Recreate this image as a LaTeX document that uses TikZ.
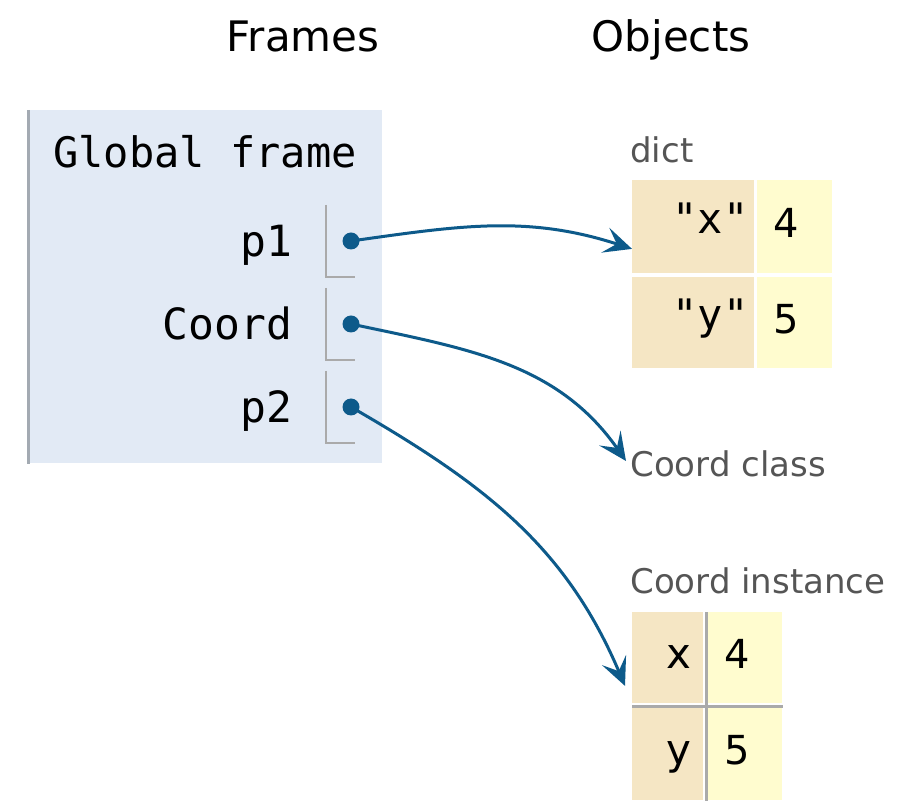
\documentclass[tikz,border=0pt]{standalone}
\usepackage{fontspec}
\setmainfont{DejaVu Sans}
\setmonofont{DejaVu Sans Mono}
\usetikzlibrary{arrows.meta,positioning,calc}
\definecolor{framebg}{HTML}{E2EAF5}
\definecolor{frameedge}{HTML}{A3AAB2}
\definecolor{keybg}{HTML}{F5E6C4}
\definecolor{valbg}{HTML}{FFFCCF}
\definecolor{ptrblue}{HTML}{0D5A8A}
\definecolor{labelgray}{HTML}{555555}
\definecolor{ptrgray}{HTML}{AAAAAA}

\begin{document}
\begin{tikzpicture}[x=0.5pt,y=-0.5pt,
  hdr/.style={font=\fontsize{21}{24}\selectfont},
  vname/.style={font=\ttfamily\fontsize{21.5}{24}\selectfont, anchor=base east},
  objlabel/.style={font=\fontsize{17}{20}\selectfont, text=labelgray, anchor=base west, inner sep=0pt},
  keycell/.style={fill=keybg, anchor=north west, inner sep=0pt},
  valcell/.style={fill=valbg, anchor=north west, inner sep=0pt},
  celltext/.style={font=\fontsize{20}{24}\selectfont, text height=1.5ex, text depth=0.3ex, inner sep=0pt},
  ptrdot/.style={circle, fill=ptrblue, inner sep=0pt, minimum size=8.5pt},
  ptr/.style={draw=ptrblue, line width=1.5pt, -{Stealth[length=14pt,width=13pt,inset=6pt]}},
  ptrbox/.style={draw=ptrgray, line width=1pt}]
\useasboundingbox (0,0) rectangle (910,801);
% headings
\node[hdr, anchor=base] (frames) at (303,52) {Frames};
\node[hdr, anchor=base] (objects) at (671,52) {Objects};
% the global frame
\node[fill=framebg, anchor=north west, minimum width=177pt, minimum height=176.5pt, inner sep=0pt] (gframe) at (28,110) {};
\draw[frameedge, line width=1.5pt] (gframe.north west) -- (gframe.south west);
\node[font=\ttfamily\fontsize{21}{24}\selectfont, anchor=base west, inner sep=0pt] (gtitle) at (53,168) {Global frame};
% the variables and their pointers
\foreach \vn/\y/\id in {p1/241/pa, Coord/324/pc, p2/407/pb}{
  \node[vname] (\id name) at (299,\y+16) {\vn};
  \draw[ptrbox] (326,\y-36) -- (326,\y+36) -- (355,\y+36);
  \node[ptrdot] (\id) at (351,\y) {};
}
% the dict
\node[objlabel] (dictlbl) at (630,163) {dict};
\node[keycell, minimum width=61pt, minimum height=46.5pt] (dk1) at (632,180) {};
\node[valcell, minimum width=37.5pt, minimum height=46.5pt] (dv1) at (757,180) {};
\node[keycell, minimum width=61pt, minimum height=45.5pt] (dk2) at (632,277) {};
\node[valcell, minimum width=37.5pt, minimum height=45.5pt] (dv2) at (757,277) {};
\node[celltext, font=\ttfamily\fontsize{21}{24}\selectfont, anchor=east] (dk1t) at ([xshift=-3pt]dk1.east) {"x"};
\node[celltext, font=\ttfamily\fontsize{21}{24}\selectfont, anchor=east] (dk2t) at ([xshift=-3pt]dk2.east) {"y"};
\node[celltext, anchor=west] (dv1t) at ([xshift=8pt,yshift=-2pt]dv1.west) {4};
\node[celltext, anchor=west] (dv2t) at ([xshift=8pt,yshift=-2pt]dv2.west) {5};
% the class
\node[objlabel] (cclass) at (630,477) {Coord class};
% the instance
\node[objlabel] (instlbl) at (630,594) {Coord instance};
\node[keycell, minimum width=35.5pt, minimum height=45.5pt] (ik1) at (632,612) {};
\node[valcell, minimum width=37pt, minimum height=45.5pt] (iv1) at (708,612) {};
\node[keycell, minimum width=35.5pt, minimum height=46pt] (ik2) at (632,708) {};
\node[valcell, minimum width=37pt, minimum height=46pt] (iv2) at (708,708) {};
\draw[ptrgray, line width=1.2pt] ([xshift=1.25pt]ik1.north east) -- ([xshift=1.25pt]ik2.south east);
\draw[ptrgray, line width=1.2pt] ([yshift=-1.25pt]ik1.south west) -- ([yshift=-1.25pt]iv1.south east);
\node[celltext, font=\fontsize{21}{24}\selectfont, anchor=east] (ik1t) at ([xshift=-6pt,yshift=-2pt]ik1.east) {x};
\node[celltext, font=\fontsize{21}{24}\selectfont, anchor=east] (ik2t) at ([xshift=-6pt,yshift=-2pt]ik2.east) {y};
\node[celltext, anchor=west] (iv1t) at ([xshift=8pt,yshift=-2pt]iv1.west) {4};
\node[celltext, anchor=west] (iv2t) at ([xshift=8pt,yshift=-2pt]iv2.west) {5};
% the pointers
\draw[ptr] (pa.center) to[out=8,in=162] ([yshift=-11pt]dk1.west);
\draw[ptr] (pc.center) to[out=-12,in=125] ([xshift=-2pt]cclass.west |- 0,461);
\draw[ptr] (pb.center) to[out=-30,in=113] ([xshift=-3.5pt,yshift=-14pt]ik1.west);
\end{tikzpicture}
\end{document}
